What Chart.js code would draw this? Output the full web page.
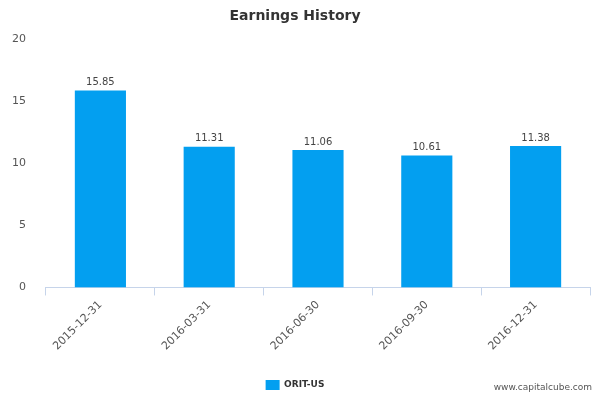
<!DOCTYPE html>
<html>
<head>
<script src="https://cdn.jsdelivr.net/npm/chart.js@4"></script>
<style>
  body { margin: 0; background: #fff; }
  #wrap { position: relative; width: 600px; height: 400px; }
  #mark { position: absolute; right: 8px; bottom: 8px; font: 9px "DejaVu Sans", sans-serif; color: #555; }
</style>
</head>
<body>
<div id="wrap">
  <canvas id="c" width="600" height="400"></canvas>
  <div id="mark">www.capitalcube.com</div>
</div>
<script>
const categories = ['2015-12-31', '2016-03-31', '2016-06-30', '2016-09-30', '2016-12-31'];
const earnings = [15.85, 11.31, 11.06, 10.61, 11.38];
const seriesName = 'ORIT-US';

// draws the value above each bar
const valueLabels = {
  id: 'valueLabels',
  afterDatasetsDraw(chart) {
    const ctx = chart.ctx;
    ctx.save();
    ctx.font = '10px "DejaVu Sans", sans-serif';
    ctx.fillStyle = '#444';
    ctx.textAlign = 'center';
    ctx.textBaseline = 'bottom';
    chart.getDatasetMeta(0).data.forEach((bar, i) => {
      ctx.fillText(earnings[i].toFixed(2), bar.x, bar.y - 3);
    });
    ctx.restore();
  }
};

new Chart(document.getElementById('c'), {
  type: 'bar',
  data: {
    labels: categories,
    datasets: [{
      label: seriesName,
      data: earnings,
      backgroundColor: '#039ff0',
      categoryPercentage: 1,
      barPercentage: 0.47
    }]
  },
  options: {
    responsive: false,
    animation: false,
    layout: { padding: { left: 0, right: 10, top: 0, bottom: 0 } },
    plugins: {
      title: {
        display: true,
        text: 'Earnings History',
        color: '#333',
        font: { family: 'DejaVu Sans', size: 14, weight: 'bold' },
        padding: { top: 8, bottom: 14 }
      },
      legend: {
        position: 'bottom',
        labels: {
          boxWidth: 14, boxHeight: 10,
          color: '#333',
          font: { family: 'DejaVu Sans', size: 9, weight: 'bold' },
          padding: 24
        }
      },
      tooltip: { enabled: false }
    },
    scales: {
      x: {
        grid: { display: true, drawOnChartArea: false, offset: true, color: '#c6d4ea', tickLength: 8 },
        border: { color: '#c6d4ea' },
        ticks: { color: '#555', font: { family: 'DejaVu Sans', size: 11 }, maxRotation: 45, minRotation: 45 }
      },
      y: {
        min: 0, max: 20,
        ticks: { stepSize: 5, color: '#555', font: { family: 'DejaVu Sans', size: 11 }, padding: 12 },
        grid: { display: false },
        border: { display: false }
      }
    }
  },
  plugins: [valueLabels]
});
</script>
</body>
</html>
